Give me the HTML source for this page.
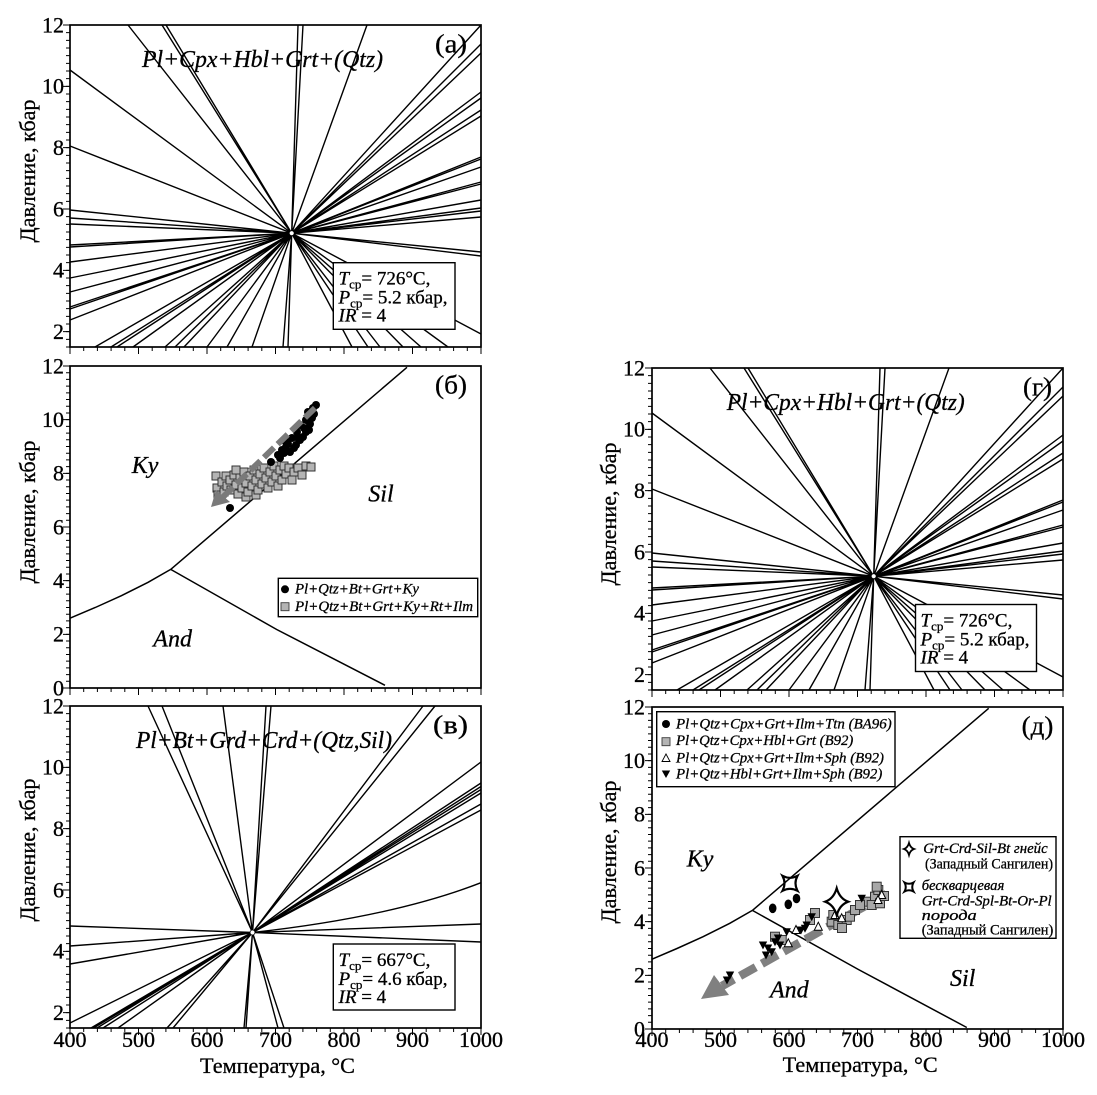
<!DOCTYPE html>
<html><head><meta charset="utf-8"><style>html,body{margin:0;padding:0;background:#fff}svg{display:block}text{stroke:#000;stroke-width:0.3}</style></head><body>
<svg xmlns="http://www.w3.org/2000/svg" width="1097" height="1095" viewBox="0 0 1097 1095" font-family="'Liberation Serif','DejaVu Serif',serif">
<defs>
<g id="sq"><rect x="-4" y="-4" width="8" height="8" fill="#b4b4b4" stroke="#333" stroke-width="1"/></g>
<g id="sq2"><rect x="-4.5" y="-4.5" width="9" height="9" fill="#a8a8a8" stroke="#333" stroke-width="1"/></g>
<circle id="bd" r="4" fill="#000"/>
<path id="tu" d="M0 -4.5L4 3.5H-4Z" fill="#fff" stroke="#000" stroke-width="1"/>
<path id="td" d="M0 4.5L4.2 -3.5H-4.2Z" fill="#000"/>
<g id="raysA" fill="none" stroke="#000" stroke-width="1.4">
<path d="M291.7 233.2L128 25M291.7 233.2L162 25M291.7 233.2L166 25M291.7 233.2L298 25M291.7 233.2L303 25M291.7 233.2L367 25M291.7 233.2L481 25
M291.7 233.2L70 70M291.7 233.2L70 146M291.7 233.2L70 210M291.7 233.2L70 218M291.7 233.2L70 224M291.7 233.2L70 245M291.7 233.2L70 247M291.7 233.2L70 262M291.7 233.2L70 278M291.7 233.2L70 292M291.7 233.2L70 307M291.7 233.2L70 309M291.7 233.2L70 320
M291.7 233.2L481 44M291.7 233.2L481 53M291.7 233.2L481 92M291.7 233.2L481 98M291.7 233.2L481 110M291.7 233.2L481 116M291.7 233.2L481 157M291.7 233.2L481 159M291.7 233.2L481 167M291.7 233.2L481 182M291.7 233.2L481 184M291.7 233.2L481 200M291.7 233.2L481 208M291.7 233.2L481 211M291.7 233.2L481 217M291.7 233.2L481 252M291.7 233.2L481 256M291.7 233.2L481 334
M291.7 233.2L95 347M291.7 233.2L111 347M291.7 233.2L117 347M291.7 233.2L133 347M291.7 233.2L165 347M291.7 233.2L175 347M291.7 233.2L184 347M291.7 233.2L207 347M291.7 233.2L227 347M291.7 233.2L252 347M291.7 233.2L283 347M291.7 233.2L288 347M291.7 233.2L352 347M291.7 233.2L368 347M291.7 233.2L380 347M291.7 233.2L403 347M291.7 233.2L421 347M291.7 233.2L448 347"/>
</g>
</defs>

<!-- ===== Panel (a) ===== -->
<use href="#raysA"/>
<circle cx="291.7" cy="233.2" r="2.5" fill="#fff" stroke="#000" stroke-width="0.8"/>
<rect x="333.3" y="262.7" width="121.7" height="66.6" fill="#fff" stroke="#000" stroke-width="1.4"/>
<text x="338.5" y="284.7" font-size="19"><tspan font-style="italic">T</tspan><tspan font-size="13" dy="4">ср</tspan><tspan dy="-4">= 726°C,</tspan></text>
<text x="338.5" y="303.7" font-size="19"><tspan font-style="italic">P</tspan><tspan font-size="13" dy="4">ср</tspan><tspan dy="-4">= 5.2 кбар,</tspan></text>
<text x="338.5" y="321.7" font-size="19"><tspan font-style="italic">IR</tspan> = 4</text>
<text x="142" y="67" font-size="24" font-style="italic" textLength="241" lengthAdjust="spacingAndGlyphs">Pl+Cpx+Hbl+Grt+(Qtz)</text>
<text x="435" y="52.5" font-size="26" textLength="32" lengthAdjust="spacingAndGlyphs">(а)</text>
<rect x="70" y="25" width="411" height="322" fill="none" stroke="#000" stroke-width="1.7"/>
<g stroke="#000" fill="none">
<line x1="68" y1="24.5" x2="68" y2="347.5" stroke-width="4" stroke-dasharray="1 6.6667"/>
<line x1="66.5" y1="24.5" x2="66.5" y2="332.2" stroke-width="7" stroke-dasharray="1 60.333"/>
<line x1="69.5" y1="349" x2="481.5" y2="349" stroke-width="4" stroke-dasharray="1 12.7"/>
<line x1="69.5" y1="350.5" x2="481.5" y2="350.5" stroke-width="7" stroke-dasharray="1 67.5"/>
</g>
<g font-size="22" text-anchor="end">
<text x="64" y="32.3">12</text><text x="64" y="93.6">10</text><text x="64" y="155">8</text><text x="64" y="216.3">6</text><text x="64" y="277.6">4</text><text x="64" y="339">2</text>
</g>
<text transform="translate(35,171) rotate(-90)" text-anchor="middle" font-size="22" textLength="143" lengthAdjust="spacingAndGlyphs">Давление, кбар</text>

<!-- ===== Panel (б) ===== -->
<g fill="none" stroke="#000" stroke-width="1.5">
<polyline points="70,618.2 95.3,607.5 121.4,595.7 148.1,582.3 170.7,569.4"/>
<polyline points="170.7,569.4 407,367.3"/>
<polyline points="170.7,569.4 276.7,629.5 385,685.3"/>
</g>
<g>
<use href="#sq" x="216" y="476"/><use href="#sq" x="217" y="488"/><use href="#sq" x="218" y="495"/><use href="#sq" x="222" y="482"/><use href="#sq" x="224" y="492"/><use href="#sq" x="227" y="486"/><use href="#sq" x="226" y="476"/><use href="#sq" x="230" y="480"/><use href="#sq" x="231" y="490"/><use href="#sq" x="234" y="475"/><use href="#sq" x="236" y="470"/><use href="#sq" x="236" y="485"/><use href="#sq" x="238" y="494"/><use href="#sq" x="240" y="478"/><use href="#sq" x="242" y="488"/><use href="#sq" x="244" y="472"/><use href="#sq" x="246" y="483"/><use href="#sq" x="246" y="497"/><use href="#sq" x="248" y="492"/><use href="#sq" x="250" y="476"/><use href="#sq" x="252" y="486"/><use href="#sq" x="254" y="470"/><use href="#sq" x="256" y="480"/><use href="#sq" x="256" y="495"/><use href="#sq" x="258" y="490"/><use href="#sq" x="260" y="474"/><use href="#sq" x="262" y="484"/><use href="#sq" x="264" y="468"/><use href="#sq" x="266" y="478"/><use href="#sq" x="268" y="488"/><use href="#sq" x="270" y="472"/><use href="#sq" x="272" y="482"/><use href="#sq" x="274" y="466"/><use href="#sq" x="276" y="476"/><use href="#sq" x="278" y="486"/><use href="#sq" x="280" y="470"/><use href="#sq" x="282" y="480"/><use href="#sq" x="284" y="466"/><use href="#sq" x="286" y="474"/><use href="#sq" x="289" y="468"/><use href="#sq" x="292" y="480"/><use href="#sq" x="294" y="472"/><use href="#sq" x="298" y="468"/><use href="#sq" x="302" y="475"/><use href="#sq" x="306" y="466"/><use href="#sq" x="311" y="467"/>
</g>
<g>
<use href="#bd" x="278" y="455"/><use href="#bd" x="280" y="458"/><use href="#bd" x="282" y="450"/><use href="#bd" x="286" y="447"/><use href="#bd" x="290" y="452"/><use href="#bd" x="285" y="441"/><use href="#bd" x="292" y="438"/><use href="#bd" x="297" y="432"/><use href="#bd" x="296" y="445"/><use href="#bd" x="300" y="425"/><use href="#bd" x="303" y="437"/><use href="#bd" x="306" y="420"/><use href="#bd" x="309" y="430"/><use href="#bd" x="308" y="412"/><use href="#bd" x="312" y="418"/><use href="#bd" x="313" y="408"/><use href="#bd" x="316" y="405"/><use href="#bd" x="300" y="440"/><use href="#bd" x="294" y="448"/><use href="#bd" x="288" y="444"/><use href="#bd" x="304" y="428"/><use href="#bd" x="271" y="462"/><use href="#bd" x="230" y="508"/><use href="#bd" x="298" y="438"/><use href="#bd" x="306" y="432"/><use href="#bd" x="310" y="424"/><use href="#bd" x="314" y="414"/><use href="#bd" x="284" y="453"/>
</g>
<line x1="315" y1="408" x2="222" y2="498" stroke="#7a7a7a" stroke-width="6" stroke-dasharray="14 5"/>
<polygon points="211,507 216,490 230,502" fill="#7a7a7a"/>
<g font-size="24" font-style="italic">
<text x="131.7" y="473">Ky</text><text x="368.3" y="501.5">Sil</text><text x="153.3" y="646.5">And</text>
</g>
<rect x="278.3" y="578.3" width="199.4" height="38.4" fill="#fff" stroke="#000" stroke-width="1.4"/>
<circle cx="285" cy="589.3" r="4" fill="#000"/>
<rect x="281" y="602.7" width="8" height="8" fill="#b4b4b4" stroke="#3a3a3a" stroke-width="0.9"/>
<g font-size="15" font-style="italic">
<text x="295" y="593.5" textLength="124" lengthAdjust="spacingAndGlyphs">Pl+Qtz+Bt+Grt+Ky</text>
<text x="295" y="611" textLength="178" lengthAdjust="spacingAndGlyphs">Pl+Qtz+Bt+Grt+Ky+Rt+Ilm</text>
</g>
<text x="435" y="393.5" font-size="26" textLength="32" lengthAdjust="spacingAndGlyphs">(б)</text>
<rect x="70" y="366" width="411" height="322" fill="none" stroke="#000" stroke-width="1.7"/>
<g stroke="#000" fill="none">
<line x1="68" y1="365.5" x2="68" y2="688.5" stroke-width="4" stroke-dasharray="1 5.7083"/>
<line x1="66.5" y1="365.5" x2="66.5" y2="688.5" stroke-width="7" stroke-dasharray="1 52.667"/>
<line x1="69.5" y1="690" x2="481.5" y2="690" stroke-width="4" stroke-dasharray="1 12.7"/>
<line x1="69.5" y1="691.5" x2="481.5" y2="691.5" stroke-width="7" stroke-dasharray="1 67.5"/>
</g>
<g font-size="22" text-anchor="end">
<text x="64" y="373.3">12</text><text x="64" y="427">10</text><text x="64" y="480.6">8</text><text x="64" y="534.3">6</text><text x="64" y="588">4</text><text x="64" y="641.6">2</text><text x="64" y="695.3">0</text>
</g>
<text transform="translate(35,512) rotate(-90)" text-anchor="middle" font-size="22" textLength="143" lengthAdjust="spacingAndGlyphs">Давление, кбар</text>

<!-- ===== Panel (в) ===== -->
<g fill="none" stroke="#000" stroke-width="1.4">
<path d="M252.5 932.5L148 706M252.5 932.5L162 706M252.5 932.5L223 706M252.5 932.5L266 706M252.5 932.5L271 706M252.5 932.5L423 706M252.5 932.5L435 706
M252.5 932.5L481 762M252.5 932.5L481 783M252.5 932.5L481 786.5M252.5 932.5L481 789.5M252.5 932.5L481 793M252.5 932.5L481 804M252.5 932.5L481 810M252.5 932.5L481 924M252.5 932.5L481 942
M252.5 932.5L70 926M252.5 932.5L70 946M252.5 932.5L70 964M252.5 932.5L70 1023
M252.5 932.5L91 1028M252.5 932.5L93.5 1028M252.5 932.5L97 1028M252.5 932.5L103 1028M252.5 932.5L118 1028M252.5 932.5L167 1028M252.5 932.5L173 1028M252.5 932.5L244 1028M252.5 932.5L246 1028M252.5 932.5L278 1028M252.5 932.5L284 1028
M252.5 932.5Q393 917 481 882.7"/>
</g>
<circle cx="252.5" cy="932.5" r="2.5" fill="#fff" stroke="#000" stroke-width="0.8"/>
<rect x="333.3" y="944" width="121.7" height="66" fill="#fff" stroke="#000" stroke-width="1.4"/>
<text x="338.5" y="966" font-size="19"><tspan font-style="italic">T</tspan><tspan font-size="13" dy="4">ср</tspan><tspan dy="-4">= 667°C,</tspan></text>
<text x="338.5" y="985" font-size="19"><tspan font-style="italic">P</tspan><tspan font-size="13" dy="4">ср</tspan><tspan dy="-4">= 4.6 кбар,</tspan></text>
<text x="338.5" y="1003" font-size="19"><tspan font-style="italic">IR</tspan> = 4</text>
<text x="136" y="748" font-size="24" font-style="italic" textLength="256" lengthAdjust="spacingAndGlyphs">Pl+Bt+Grd+Crd+(Qtz,Sil)</text>
<text x="433" y="733.5" font-size="26" textLength="35" lengthAdjust="spacingAndGlyphs">(в)</text>
<rect x="70" y="706" width="411" height="322" fill="none" stroke="#000" stroke-width="1.7"/>
<g stroke="#000" fill="none">
<line x1="68" y1="705.5" x2="68" y2="1028.5" stroke-width="4" stroke-dasharray="1 6.6667"/>
<line x1="66.5" y1="705.5" x2="66.5" y2="1013.2" stroke-width="7" stroke-dasharray="1 60.333"/>
<line x1="69.5" y1="1030" x2="481.5" y2="1030" stroke-width="4" stroke-dasharray="1 12.7"/>
<line x1="69.5" y1="1031.5" x2="481.5" y2="1031.5" stroke-width="7" stroke-dasharray="1 67.5"/>
</g>
<g font-size="22" text-anchor="end">
<text x="64" y="713.3">12</text><text x="64" y="774.6">10</text><text x="64" y="836">8</text><text x="64" y="897.3">6</text><text x="64" y="958.6">4</text><text x="64" y="1020">2</text>
</g>
<g font-size="22" text-anchor="middle">
<text x="70" y="1047">400</text><text x="138.5" y="1047">500</text><text x="207" y="1047">600</text><text x="275.5" y="1047">700</text><text x="344" y="1047">800</text><text x="412.5" y="1047">900</text><text x="481" y="1047">1000</text>
</g>
<text x="277.5" y="1073" text-anchor="middle" font-size="22" textLength="155" lengthAdjust="spacingAndGlyphs">Температура, °C</text>
<text transform="translate(35,850) rotate(-90)" text-anchor="middle" font-size="22" textLength="143" lengthAdjust="spacingAndGlyphs">Давление, кбар</text>

<!-- ===== Panel (г) ===== -->
<use href="#raysA" transform="translate(582,343)"/>
<circle cx="873.7" cy="576.2" r="2.5" fill="#fff" stroke="#000" stroke-width="0.8"/>
<rect x="915.5" y="604.5" width="121" height="67" fill="#fff" stroke="#000" stroke-width="1.4"/>
<text x="920.5" y="626.5" font-size="19"><tspan font-style="italic">T</tspan><tspan font-size="13" dy="4">ср</tspan><tspan dy="-4">= 726°C,</tspan></text>
<text x="920.5" y="645.5" font-size="19"><tspan font-style="italic">P</tspan><tspan font-size="13" dy="4">ср</tspan><tspan dy="-4">= 5.2 кбар,</tspan></text>
<text x="920.5" y="663.5" font-size="19"><tspan font-style="italic">IR</tspan> = 4</text>
<text x="726.7" y="410" font-size="24" font-style="italic" textLength="238" lengthAdjust="spacingAndGlyphs">Pl+Cpx+Hbl+Grt+(Qtz)</text>
<text x="1023" y="395.5" font-size="26" textLength="29" lengthAdjust="spacingAndGlyphs">(г)</text>
<rect x="652" y="368" width="411" height="322" fill="none" stroke="#000" stroke-width="1.7"/>
<g stroke="#000" fill="none">
<line x1="650" y1="367.5" x2="650" y2="690.5" stroke-width="4" stroke-dasharray="1 6.6667"/>
<line x1="648.5" y1="367.5" x2="648.5" y2="675.2" stroke-width="7" stroke-dasharray="1 60.333"/>
<line x1="651.5" y1="692" x2="1063.5" y2="692" stroke-width="4" stroke-dasharray="1 12.7"/>
<line x1="651.5" y1="693.5" x2="1063.5" y2="693.5" stroke-width="7" stroke-dasharray="1 67.5"/>
</g>
<g font-size="22" text-anchor="end">
<text x="645" y="375.3">12</text><text x="645" y="436.6">10</text><text x="645" y="498">8</text><text x="645" y="559.3">6</text><text x="645" y="620.6">4</text><text x="645" y="682">2</text>
</g>
<text transform="translate(616,514) rotate(-90)" text-anchor="middle" font-size="22" textLength="143" lengthAdjust="spacingAndGlyphs">Давление, кбар</text>

<!-- ===== Panel (д) ===== -->
<g fill="none" stroke="#000" stroke-width="1.5">
<polyline points="652,959.2 677,948.5 703.1,936.7 729.8,923.3 752.4,910.4"/>
<polyline points="752.4,910.4 988.7,708.3"/>
<polyline points="752.4,910.4 858.4,969.5 966.8,1027.5"/>
</g>
<line x1="886.7" y1="894" x2="722" y2="986" stroke="#808080" stroke-width="8.5" stroke-dasharray="18 7"/>
<polygon points="701,999 714,975 729,995" fill="#808080"/>
<g>
<use href="#sq2" x="810" y="920"/><use href="#sq2" x="831.7" y="921.7"/><use href="#sq2" x="838.3" y="925"/><use href="#sq2" x="846.7" y="920"/><use href="#sq2" x="850" y="916.7"/><use href="#sq2" x="833.3" y="915"/><use href="#sq2" x="868.3" y="901.7"/><use href="#sq2" x="875" y="896.7"/><use href="#sq2" x="878.3" y="890"/><use href="#sq2" x="871.7" y="905"/><use href="#sq2" x="880" y="903.3"/><use href="#sq2" x="876.7" y="886.7"/><use href="#sq2" x="775" y="936.7"/><use href="#sq2" x="781.7" y="940"/><use href="#sq2" x="815" y="913"/><use href="#sq2" x="842" y="928"/><use href="#sq2" x="855" y="910"/><use href="#sq2" x="884" y="896"/><use href="#sq2" x="860" y="905"/>
</g>
<g>
<use href="#td" x="730" y="975"/><use href="#td" x="727" y="980"/><use href="#td" x="763" y="945"/><use href="#td" x="771.7" y="951.7"/><use href="#td" x="775" y="941.7"/><use href="#td" x="780" y="945"/><use href="#td" x="786.7" y="931.7"/><use href="#td" x="806.7" y="925"/><use href="#td" x="811.7" y="916.7"/><use href="#td" x="805" y="928.3"/><use href="#td" x="766" y="955"/><use href="#td" x="768" y="948"/><use href="#td" x="778" y="938"/><use href="#td" x="861.7" y="898.3"/><use href="#td" x="801" y="930"/>
</g>
<g>
<use href="#tu" x="818.3" y="926.7"/><use href="#tu" x="841.7" y="918.3"/><use href="#tu" x="788.3" y="943.3"/><use href="#tu" x="881.7" y="895"/><use href="#tu" x="835" y="915"/><use href="#tu" x="878" y="900"/><use href="#tu" x="796" y="930"/>
</g>
<ellipse cx="772.7" cy="908.3" rx="3.8" ry="4.8" fill="#000"/>
<ellipse cx="788.3" cy="904.3" rx="3.8" ry="4.8" fill="#000"/>
<ellipse cx="796.5" cy="898.5" rx="3.8" ry="4.8" fill="#000"/>
<path transform="translate(836.7,901.7)" d="M0 -13.5Q3 -3 11.5 0Q3 3 0 13.5Q-3 3 -11.5 0Q-3 -3 0 -13.5Z" fill="#fff" stroke="#000" stroke-width="2.2"/>
<path transform="translate(790,883.3)" d="M-7.5 -7.5Q0 -3.5 7.5 -7.5Q3.5 0 7.5 7.5Q0 3.5 -7.5 7.5Q-3.5 0 -7.5 -7.5Z" fill="none" stroke="#000" stroke-width="2.2"/>
<g font-size="24" font-style="italic">
<text x="686.7" y="866.7">Ky</text><text x="770" y="997.5">And</text><text x="950" y="986">Sil</text>
</g>
<rect x="656.7" y="711.7" width="238.3" height="75" fill="#fff" stroke="#000" stroke-width="1.4"/>
<circle cx="666" cy="724" r="4" fill="#000"/>
<rect x="662" y="737.7" width="8" height="8" fill="#b4b4b4" stroke="#3a3a3a" stroke-width="0.9"/>
<path d="M666 754L670 761.5H662Z" fill="#fff" stroke="#000" stroke-width="0.9"/>
<path d="M666 778L670.2 770.5H661.8Z" fill="#000"/>
<g font-size="15" font-style="italic">
<text x="676" y="728.3" textLength="215.7" lengthAdjust="spacingAndGlyphs">Pl+Qtz+Cpx+Grt+Ilm+Ttn (BA96)</text>
<text x="676" y="745" textLength="177.3" lengthAdjust="spacingAndGlyphs">Pl+Qtz+Cpx+Hbl+Grt (B92)</text>
<text x="676" y="762.3" textLength="208" lengthAdjust="spacingAndGlyphs">Pl+Qtz+Cpx+Grt+Ilm+Sph (B92)</text>
<text x="676" y="778.3" textLength="206.3" lengthAdjust="spacingAndGlyphs">Pl+Qtz+Hbl+Grt+Ilm+Sph (B92)</text>
</g>
<rect x="900" y="836.7" width="156" height="101.6" fill="#fff" stroke="#000" stroke-width="1.4"/>
<path transform="translate(909,849)" d="M0 -6Q1.3 -1.3 5 0Q1.3 1.3 0 6Q-1.3 1.3 -5 0Q-1.3 -1.3 0 -6Z" fill="#fff" stroke="#000" stroke-width="1.8"/>
<path transform="translate(909,887)" d="M-4.5 -4.5Q0 -2 4.5 -4.5Q2 0 4.5 4.5Q0 2 -4.5 4.5Q-2 0 -4.5 -4.5Z" fill="none" stroke="#000" stroke-width="2"/>
<text x="923.3" y="853" font-size="15" font-style="italic" textLength="124.4" lengthAdjust="spacingAndGlyphs">Grt-Crd-Sil-Bt гнейс</text>
<text x="925" y="868.5" font-size="15" textLength="128" lengthAdjust="spacingAndGlyphs">(Западный Сангилен)</text>
<text x="921.7" y="890" font-size="15" font-style="italic" textLength="82.6" lengthAdjust="spacingAndGlyphs">бескварцевая</text>
<text x="921.7" y="905.5" font-size="15" font-style="italic" textLength="130" lengthAdjust="spacingAndGlyphs">Grt-Crd-Spl-Bt-Or-Pl</text>
<text x="921.7" y="920" font-size="15" font-style="italic" textLength="55" lengthAdjust="spacingAndGlyphs">порода</text>
<text x="921.7" y="934.5" font-size="15" textLength="131.6" lengthAdjust="spacingAndGlyphs">(Западный Сангилен)</text>
<text x="1021.7" y="734.5" font-size="26" textLength="31.6" lengthAdjust="spacingAndGlyphs">(д)</text>
<rect x="652" y="707" width="411" height="322" fill="none" stroke="#000" stroke-width="1.7"/>
<g stroke="#000" fill="none">
<line x1="650" y1="706.5" x2="650" y2="1029.5" stroke-width="4" stroke-dasharray="1 5.7083"/>
<line x1="648.5" y1="706.5" x2="648.5" y2="1029.5" stroke-width="7" stroke-dasharray="1 52.667"/>
<line x1="651.5" y1="1031" x2="1063.5" y2="1031" stroke-width="4" stroke-dasharray="1 12.7"/>
<line x1="651.5" y1="1032.5" x2="1063.5" y2="1032.5" stroke-width="7" stroke-dasharray="1 67.5"/>
</g>
<g font-size="22" text-anchor="end">
<text x="645" y="714.3">12</text><text x="645" y="768">10</text><text x="645" y="821.6">8</text><text x="645" y="875.3">6</text><text x="645" y="929">4</text><text x="645" y="982.6">2</text><text x="645" y="1036.3">0</text>
</g>
<g font-size="22" text-anchor="middle">
<text x="652" y="1047">400</text><text x="720.5" y="1047">500</text><text x="789" y="1047">600</text><text x="857.5" y="1047">700</text><text x="926" y="1047">800</text><text x="994.5" y="1047">900</text><text x="1063" y="1047">1000</text>
</g>
<text x="860.2" y="1072" text-anchor="middle" font-size="22" textLength="155" lengthAdjust="spacingAndGlyphs">Температура, °C</text>
<text transform="translate(616,852) rotate(-90)" text-anchor="middle" font-size="22" textLength="143" lengthAdjust="spacingAndGlyphs">Давление, кбар</text>
</svg>
</body></html>
